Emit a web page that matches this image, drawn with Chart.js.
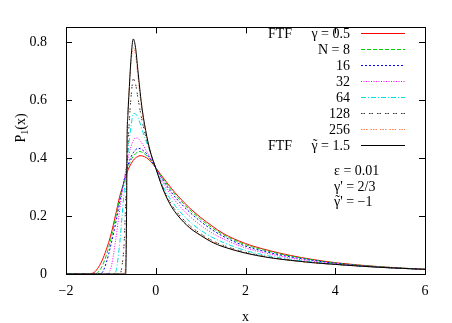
<!DOCTYPE html>
<html>
<head>
<meta charset="utf-8">
<script src="https://cdn.jsdelivr.net/npm/chart.js@4.4.1/dist/chart.umd.min.js"></script>
<style>
  html, body { margin: 0; padding: 0; background: #fff; }
  #chart { display: block; }
</style>
</head>
<body>
<canvas id="chart" width="452" height="323"></canvas>
<script>
// x grid shared by all curves
const xGrid = [-2, -1.6, -1.4, -1.3, -1.2, -1.1, -1.0, -0.9, -0.8, -0.75,
    -0.7, -0.67, -0.65, -0.64, -0.62, -0.6, -0.55, -0.5, -0.45, -0.4,
    -0.35, -0.3, -0.2, -0.1, 0, 0.1, 0.2, 0.35, 0.5, 0.75,
    1, 1.25, 1.5, 2, 2.5, 3, 3.5, 4, 5, 6];

const ftfGamma = [0, 0, 0.003, 0.018, 0.045, 0.085, 0.135, 0.2, 0.27, 0.295,
    0.32, 0.334, 0.345, 0.35, 0.358, 0.365, 0.38, 0.392, 0.4, 0.405,
    0.408, 0.407, 0.4, 0.386, 0.366, 0.345, 0.325, 0.295, 0.268, 0.228,
    0.195, 0.166, 0.14, 0.105, 0.082, 0.064, 0.05, 0.039, 0.025, 0.016];
const n8 = [0, 0, 0, 0.004, 0.025, 0.065, 0.12, 0.19, 0.262, 0.295,
    0.325, 0.342, 0.353, 0.358, 0.367, 0.376, 0.393, 0.406, 0.415, 0.421,
    0.422, 0.419, 0.408, 0.39, 0.366, 0.342, 0.32, 0.289, 0.262, 0.222,
    0.189, 0.16, 0.136, 0.101, 0.079, 0.062, 0.049, 0.038, 0.025, 0.016];
const n16 = [0, 0, 0, 0, 0.004, 0.04, 0.1, 0.17, 0.25, 0.29,
    0.325, 0.345, 0.357, 0.363, 0.374, 0.384, 0.404, 0.418, 0.428, 0.433,
    0.432, 0.428, 0.414, 0.393, 0.366, 0.339, 0.314, 0.281, 0.253, 0.214,
    0.181, 0.153, 0.13, 0.096, 0.075, 0.059, 0.047, 0.037, 0.024, 0.016];
const n32 = [0, 0, 0, 0, 0, 0, 0.02, 0.11, 0.225, 0.28,
    0.33, 0.357, 0.373, 0.381, 0.396, 0.41, 0.44, 0.46, 0.469, 0.468,
    0.46, 0.449, 0.422, 0.395, 0.366, 0.333, 0.305, 0.27, 0.24, 0.2,
    0.168, 0.142, 0.121, 0.09, 0.07, 0.055, 0.044, 0.035, 0.023, 0.016];
const n64 = [0, 0, 0, 0, 0, 0, 0, 0.005, 0.11, 0.2,
    0.29, 0.34, 0.375, 0.39, 0.42, 0.45, 0.51, 0.553, 0.552, 0.54,
    0.52, 0.495, 0.452, 0.41, 0.366, 0.325, 0.29, 0.253, 0.222, 0.181,
    0.151, 0.127, 0.109, 0.081, 0.063, 0.05, 0.041, 0.034, 0.023, 0.016];
const n128 = [0, 0, 0, 0, 0, 0, 0, 0, 0, 0.03,
    0.12, 0.25, 0.33, 0.37, 0.44, 0.5, 0.61, 0.672, 0.655, 0.61,
    0.565, 0.525, 0.46, 0.41, 0.366, 0.322, 0.283, 0.24, 0.208, 0.168,
    0.139, 0.116, 0.099, 0.075, 0.059, 0.048, 0.039, 0.033, 0.023, 0.016];
const n256 = [0, 0, 0, 0, 0, 0, 0, 0, 0, 0,
    0, 0.05, 0.25, 0.45, 0.56, 0.62, 0.73, 0.78, 0.755, 0.685,
    0.615, 0.552, 0.468, 0.41, 0.366, 0.32, 0.28, 0.234, 0.202, 0.162,
    0.135, 0.112, 0.096, 0.073, 0.058, 0.047, 0.039, 0.033, 0.023, 0.016];
const ftfGammaTilde = [0, 0, 0, 0, 0, 0, 0, 0, 0, 0,
    0, 0, 0.22, 0.45, 0.55, 0.61, 0.745, 0.81, 0.78, 0.705,
    0.63, 0.565, 0.475, 0.41, 0.365, 0.318, 0.278, 0.232, 0.2, 0.16,
    0.133, 0.11, 0.094, 0.072, 0.057, 0.047, 0.039, 0.033, 0.023, 0.016];

const seriesLabels = ['γ = 0.5', 'N = 8', '16', '32', '64', '128', '256', 'γ\u0303 = 1.5'];
const seriesPrefix = ['FTF', '', '', '', '', '', '', 'FTF'];
const xTicks = [-2, 0, 2, 4, 6];
const yTicks = [0, 0.2, 0.4, 0.6, 0.8];
const notes = ['ε = 0.01', "γ' = 2/3", "γ\u0303' = −1"];

const FONT = '14px "Liberation Serif", "DejaVu Serif", serif';

function points(values) {
    return xGrid.map((x, i) => ({ x: x, y: values[i] }));
}

const lineColors = ['#ff0000', '#00d000', '#0000ff', '#ff00ff', '#00e0e0', '#303030', '#ff8050', '#000000'];
const lineDashes = [[], [4, 2], [2, 2], [1, 1.5], [5, 2, 1, 2], [1.5, 1, 1.5, 4], [1.5, 1, 1.5, 1, 1.5, 3], []];

const allSeries = [ftfGamma, n8, n16, n32, n64, n128, n256, ftfGammaTilde];

const datasets = allSeries.map((s, i) => ({
    label: seriesLabels[i],
    data: points(s),
    borderColor: lineColors[i],
    borderDash: lineDashes[i],
    borderWidth: 1,
    pointRadius: 0,
    showLine: true,
    fill: false,
    cubicInterpolationMode: 'monotone',
    order: allSeries.length - i
}));

// text with a combining tilde: draw the tilde by hand above the letter
function drawText(ctx, text, x, y, align) {
    const plain = text.replace('\u0303', '');
    const w = ctx.measureText(plain).width;
    const left = align === 'right' ? x - w : x;
    ctx.textAlign = 'left';
    ctx.fillText(plain, left, y);
    const k = text.indexOf('\u0303');
    if (k > 0) {
        const before = ctx.measureText(plain.slice(0, k - 1)).width;
        const wc = ctx.measureText(plain[k - 1]).width;
        ctx.textAlign = 'center';
        ctx.fillText('˜', left + before + wc / 2 + 0.5, y - 1.5);
    }
}

// legend sample drawn as filled dash pieces
function legendSample(ctx, i, y) {
    const dash = lineDashes[i].length ? lineDashes[i] : [44, 0];
    ctx.save();
    ctx.fillStyle = lineColors[i];
    let x = 361, k = 0;
    while (x < 405) {
        const len = Math.min(dash[k % dash.length], 405 - x);
        if (k % 2 === 0) ctx.fillRect(x, y, len, 1);
        x += dash[k % dash.length];
        k++;
    }
    ctx.restore();
}

// frame, inward ticks, legend, axis titles and notes
const decorations = {
    id: 'decorations',
    afterDraw(chart) {
        const ctx = chart.ctx;
        const a = chart.chartArea;
        const xs = chart.scales.x;
        const ys = chart.scales.y;
        ctx.save();
        ctx.strokeStyle = '#000';
        ctx.lineWidth = 1;
        ctx.setLineDash([]);
        ctx.strokeRect(Math.round(a.left) + 0.5, Math.round(a.top) + 0.5,
            Math.round(a.right - a.left), Math.round(a.bottom - a.top));

        ctx.beginPath();
        xTicks.forEach(v => {
            const px = Math.round(xs.getPixelForValue(v)) + 0.5;
            ctx.moveTo(px, a.bottom); ctx.lineTo(px, a.bottom - 6);
            ctx.moveTo(px, a.top); ctx.lineTo(px, a.top + 6);
        });
        yTicks.forEach(v => {
            const py = Math.round(ys.getPixelForValue(v)) + 0.5;
            ctx.moveTo(a.left, py); ctx.lineTo(a.left + 6, py);
            ctx.moveTo(a.right, py); ctx.lineTo(a.right - 6, py);
        });
        ctx.stroke();
        ctx.restore();

        // legend
        ctx.save();
        ctx.font = FONT;
        ctx.fillStyle = '#000';
        ctx.textBaseline = 'alphabetic';
        for (let i = 0; i < seriesLabels.length; i++) {
            const y = 33 + i * 16.07;
            ctx.fillStyle = '#000';
            drawText(ctx, seriesLabels[i], 350, y + 5, 'right');
            if (seriesPrefix[i]) {
                drawText(ctx, seriesPrefix[i], 268, y + 5, 'left');
            }
            legendSample(ctx, i, Math.round(y));
        }
        ctx.fillStyle = '#000';

        // parameters
        notes.forEach((t, i) => drawText(ctx, t, 334, 175 + i * 15.5, 'left'));

        // x title
        ctx.textAlign = 'center';
        ctx.fillText('x', (a.left + a.right) / 2, 321);

        // y title P_1(x)
        ctx.translate(25, 128);
        ctx.rotate(-Math.PI / 2);
        const small = '10px "Liberation Serif", "DejaVu Serif", serif';
        const wP = ctx.measureText('P').width;
        const wR = ctx.measureText('(x)').width;
        ctx.font = small;
        const w1 = ctx.measureText('1').width;
        const start = -(wP + w1 + wR) / 2;
        ctx.textAlign = 'left';
        ctx.font = FONT;
        ctx.fillText('P', start, 0);
        ctx.font = small;
        ctx.fillText('1', start + wP, 3);
        ctx.font = FONT;
        ctx.fillText('(x)', start + wP + w1, 0);
        ctx.restore();
    }
};

new Chart(document.getElementById('chart').getContext('2d'), {
    type: 'scatter',
    data: { datasets: datasets },
    options: {
        responsive: false,
        animation: false,
        events: [],
        layout: { padding: { left: 0, right: 27, top: 19, bottom: 0 } },
        plugins: {
            legend: { display: false },
            tooltip: { enabled: false }
        },
        scales: {
            x: {
                type: 'linear',
                min: -2,
                max: 6,
                afterFit: scale => { scale.height = 49; },
                afterBuildTicks: scale => { scale.ticks = xTicks.map(v => ({ value: v })); },
                grid: { display: false, drawTicks: false },
                border: { display: false },
                ticks: {
                    padding: 9,
                    color: '#000',
                    font: { family: '"Liberation Serif"', size: 14 },
                    maxRotation: 0,
                    callback: v => String(v).replace('-', '−')
                }
            },
            y: {
                type: 'linear',
                min: 0,
                max: 0.85,
                afterFit: scale => { scale.width = 66; },
                afterBuildTicks: scale => { scale.ticks = yTicks.map(v => ({ value: v })); },
                grid: { display: false, drawTicks: false },
                border: { display: false },
                ticks: {
                    padding: 19,
                    color: '#000',
                    font: { family: '"Liberation Serif"', size: 14 },
                    callback: v => String(v)
                }
            }
        }
    },
    plugins: [decorations]
});
</script>
</body>
</html>
